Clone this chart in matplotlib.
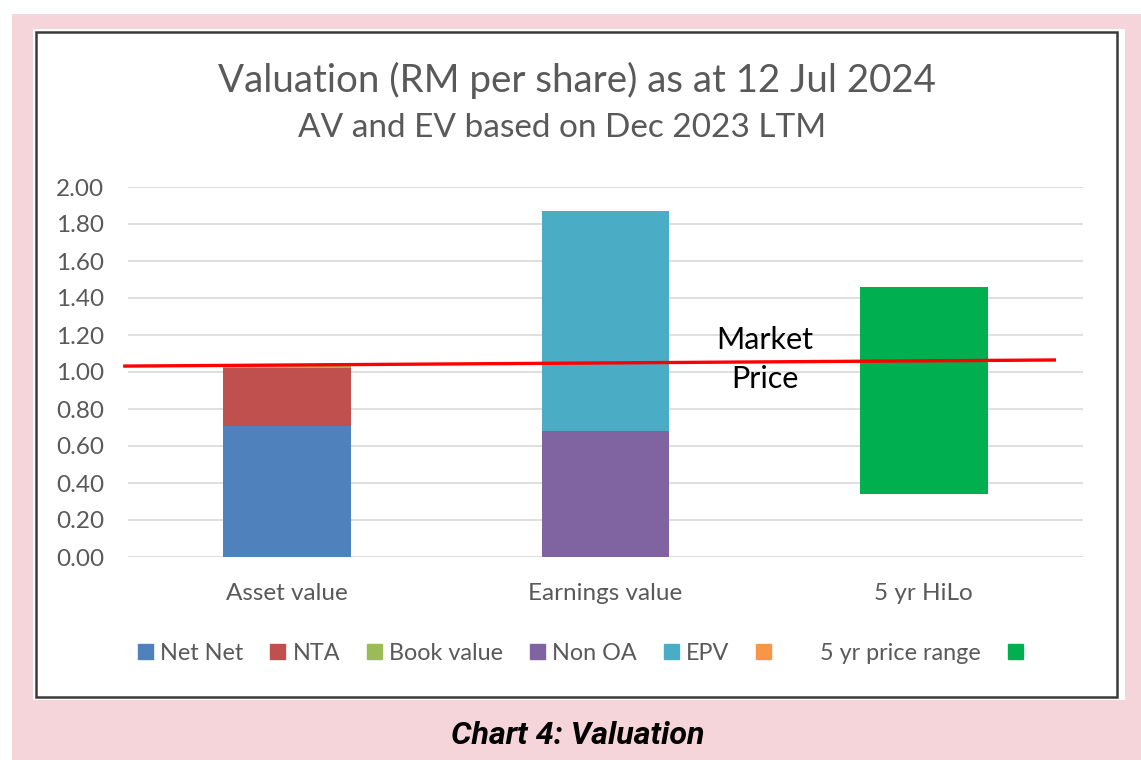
import matplotlib
matplotlib.use("Agg")
import matplotlib.pyplot as plt
from matplotlib.patches import Rectangle, Patch
import numpy as np

# ---- data ----
categories = ["Asset value", "Earnings value", "5 yr HiLo"]
net_net = [0.71, 0, 0]
nta = [0.31, 0, 0]
book_value = [0.01, 0, 0]
non_oa = [0, 0.68, 0]
epv = [0, 1.19, 0]
price_base = [0, 0, 0.34]      # invisible base of the price range
price_range = [0, 0, 1.12]     # 0.34 -> 1.46
market_line_x = [-0.51, 2.41]
market_line_y = [1.032, 1.065]
yticks = [0.0, 0.2, 0.4, 0.6, 0.8, 1.0, 1.2, 1.4, 1.6, 1.8, 2.0]

W, H = 1141, 760
fig = plt.figure(figsize=(W / 100, H / 100), dpi=100)
fig.patch.set_facecolor("white")

def fx(px):
    return px / W

def fy(py):
    return 1 - py / H

# pink background, white panel, border
fig.patches.append(Rectangle((fx(12), fy(760)), fx(1141) - fx(12), fy(14) - fy(760),
                             transform=fig.transFigure, facecolor="#F6D5DA", edgecolor="none", zorder=0))
fig.patches.append(Rectangle((fx(33), fy(700)), fx(1125) - fx(33), fy(29) - fy(700),
                             transform=fig.transFigure, facecolor="white", edgecolor="none", zorder=1))
fig.patches.append(Rectangle((fx(36), fy(697)), fx(1117) - fx(36), fy(32) - fy(697),
                             transform=fig.transFigure, facecolor="none", edgecolor="#3A3A3A",
                             linewidth=1.8, zorder=2))

GRAY = "#595959"
FONT = "Lato"
FS = 17.5
LFS = 16.8

ax = fig.add_axes([fx(128), fy(557), fx(1083) - fx(128), fy(187) - fy(557)])
ax.set_facecolor("none")
ax.set_zorder(3)

x = np.arange(len(categories))
bw = 0.4
c_netnet, c_nta, c_book = "#4F81BD", "#C0504D", "#9BBB59"
c_nonoa, c_epv, c_orange, c_green = "#8064A2", "#4BACC6", "#F79646", "#00B050"

b1 = np.array(net_net)
b2 = b1 + np.array(nta)
ax.bar(x, net_net, bw, color=c_netnet, zorder=2)
ax.bar(x, nta, bw, bottom=b1, color=c_nta, zorder=2)
ax.bar(x, book_value, bw, bottom=b2, color=c_book, zorder=2)
ax.bar(x, non_oa, bw, color=c_nonoa, zorder=2)
ax.bar(x, epv, bw, bottom=non_oa, color=c_epv, zorder=2)
ax.bar(x, price_range, bw, bottom=price_base, color=c_green, zorder=2)

ax.plot(market_line_x, market_line_y, color="#FF0000", linewidth=2.4, zorder=4, clip_on=False)
ax.text(1.50, 1.175, "Market", fontsize=22, family=FONT, color="black", ha="center", va="center", zorder=5)
ax.text(1.50, 0.96, "Price", fontsize=22, family=FONT, color="black", ha="center", va="center", zorder=5)

ax.set_xlim(-0.5, 2.5)
ax.set_ylim(0, 2.0)
ax.set_yticks(yticks)
ax.set_yticklabels([f"{v:.2f}" for v in yticks], fontsize=FS, family=FONT, color=GRAY)
ax.set_xticks(x)
ax.set_xticklabels(categories, fontsize=FS, family=FONT, color=GRAY)
ax.tick_params(axis="y", length=0, pad=17)
ax.tick_params(axis="x", length=0, pad=19)
ax.grid(axis="y", color="#D9D9D9", linewidth=1.2, zorder=0)
ax.set_axisbelow(True)
for s in ax.spines.values():
    s.set_visible(False)

# titles
fig.text(fx(577), fy(80), "Valuation (RM per share) as at 12 Jul 2024", fontsize=27.7,
         family=FONT, color=GRAY, ha="center", va="center", zorder=5)
fig.text(fx(562), fy(128), "AV and EV based on Dec 2023 LTM", fontsize=24,
         family=FONT, color=GRAY, ha="center", va="center", zorder=5)

# legend
handles = [Patch(color=c_netnet), Patch(color=c_nta), Patch(color=c_book), Patch(color=c_nonoa),
           Patch(color=c_epv), Patch(color=c_orange), Patch(color=c_green)]
labels = ["Net Net", "NTA", "Book value", "Non OA", "EPV", "       5 yr price range", ""]
leg = fig.legend(handles, labels, loc="center", bbox_to_anchor=(fx(584), fy(653)), ncol=7,
                 frameon=False, prop={"family": FONT, "size": LFS}, handlelength=0.65,
                 handleheight=0.65, handletextpad=0.3, columnspacing=1.15)
for t in leg.get_texts():
    t.set_color(GRAY)
leg.set_zorder(6)

fig.text(fx(578), fy(736), "Chart 4: Valuation", fontsize=23.2, family="Roboto", weight="bold",
         style="italic", color="black", ha="center", va="center", zorder=5)

fig.savefig("out.png", dpi=100)
